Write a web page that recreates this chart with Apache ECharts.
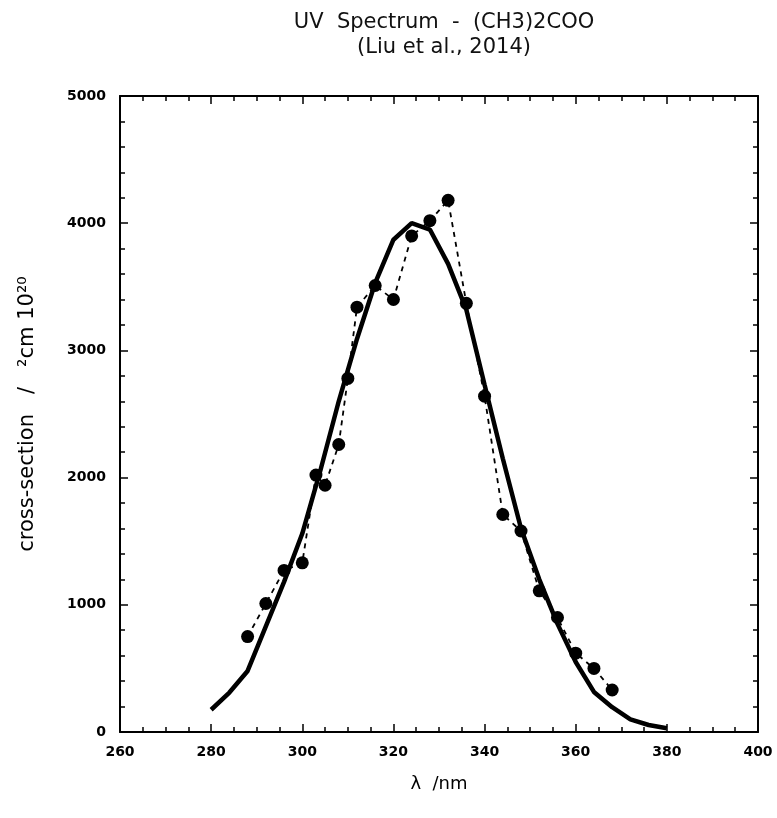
<!DOCTYPE html>
<html>
<head>
<meta charset="utf-8">
<title>UV Spectrum - (CH3)2COO</title>
<script src="https://cdn.jsdelivr.net/npm/echarts@6/dist/echarts.min.js"></script>
<style>
  html, body { margin: 0; padding: 0; background: #fff; }
  #chart { width: 777px; height: 818px; }
</style>
</head>
<body>
<div id="chart"></div>
<script>
// measured points (dashed line with markers)
var dotX = [288, 292, 296, 300, 303, 305, 308, 310, 312, 316, 320, 324, 328, 332, 336, 340, 344, 348, 352, 356, 360, 364, 368];
var dotY = [750, 1010, 1270, 1330, 2020, 1940, 2260, 2780, 3340, 3510, 3400, 3900, 4020, 4180, 3370, 2640, 1710, 1580, 1110, 900, 620, 500, 330];

// fitted curve (thick solid line)
var fitX = [280, 284, 288, 292, 296, 300, 304, 308, 312, 316, 320, 324, 328, 332, 336, 340, 344, 348, 352, 356, 360, 364, 368, 372, 376, 380];
var fitY = [175, 310, 480, 830, 1180, 1560, 2060, 2600, 3090, 3530, 3870, 4000, 3950, 3680, 3320, 2730, 2150, 1600, 1200, 850, 550, 315, 195, 100, 55, 30];

var xTicks = [260, 280, 300, 320, 340, 360, 380, 400];
var yTicks = [0, 1000, 2000, 3000, 4000, 5000];

function pairs(xs, ys) {
    var out = [];
    for (var i = 0; i < xs.length; i++) out.push([xs[i], ys[i]]);
    return out;
}

var tickFont = { fontFamily: 'DejaVu Sans', fontWeight: 'bold', fontSize: 14, color: '#000' };
var axisLine = { show: true, onZero: false, lineStyle: { color: '#000', width: 2 } };

function xAx(pos, labels) {
    return {
        type: 'value', position: pos,
        min: xTicks[0], max: xTicks[xTicks.length - 1], interval: 20,
        axisLine: axisLine,
        axisTick: { show: true, inside: true, length: 8, lineStyle: { color: '#000', width: 1.5 } },
        minorTick: { show: true, splitNumber: 4, length: 5, lineStyle: { color: '#000', width: 1.5 } },
        axisLabel: Object.assign({ show: labels, margin: 13, formatter: function (v) { return String(v); } }, tickFont),
        splitLine: { show: false },
        name: labels ? 'λ  /nm' : '',
        nameLocation: 'middle', nameGap: 43,
        nameTextStyle: { fontFamily: 'DejaVu Sans', fontSize: 18, color: '#000' }
    };
}

function yAx(pos, labels) {
    return {
        type: 'value', position: pos,
        min: yTicks[0], max: yTicks[yTicks.length - 1], interval: 1000,
        axisLine: axisLine,
        axisTick: { show: true, inside: true, length: 8, lineStyle: { color: '#000', width: 1.5 } },
        minorTick: { show: true, splitNumber: 5, length: 5, lineStyle: { color: '#000', width: 1.5 } },
        axisLabel: Object.assign({ show: labels, margin: 14, formatter: function (v) { return String(v); } }, tickFont),
        splitLine: { show: false },
        name: labels ? 'cross-section   /   ²cm 10²⁰' : '',
        nameLocation: 'middle', nameGap: 82,
        nameTextStyle: { fontFamily: 'DejaVu Sans', fontSize: 21, color: '#000' }
    };
}

var myChart = echarts.init(document.getElementById('chart'));
var option = {
    animation: false,
    backgroundColor: '#fff',
    title: {
        text: 'UV  Spectrum  -  (CH3)2COO\n(Liu et al., 2014)',
        left: 439, top: 5, textAlign: 'center',
        textStyle: { fontFamily: 'DejaVu Sans', fontWeight: 'normal', fontSize: 21, lineHeight: 25, color: '#111' }
    },
    grid: { left: 120, right: 19, top: 96, bottom: 86 },
    xAxis: [xAx('bottom', true), xAx('top', false)],
    yAxis: [yAx('left', true), yAx('right', false)],
    series: [
        {
            name: 'fit',
            type: 'line',
            data: pairs(fitX, fitY),
            showSymbol: false,
            symbol: 'none',
            lineStyle: { color: '#000', width: 4.5 },
            z: 2
        },
        {
            name: 'data',
            type: 'line',
            data: pairs(dotX, dotY),
            symbol: 'circle',
            symbolSize: 13,
            itemStyle: { color: '#000' },
            lineStyle: { color: '#000', width: 1.8, type: [5, 5] },
            z: 3
        }
    ]
};
myChart.setOption(option);
</script>
</body>
</html>
